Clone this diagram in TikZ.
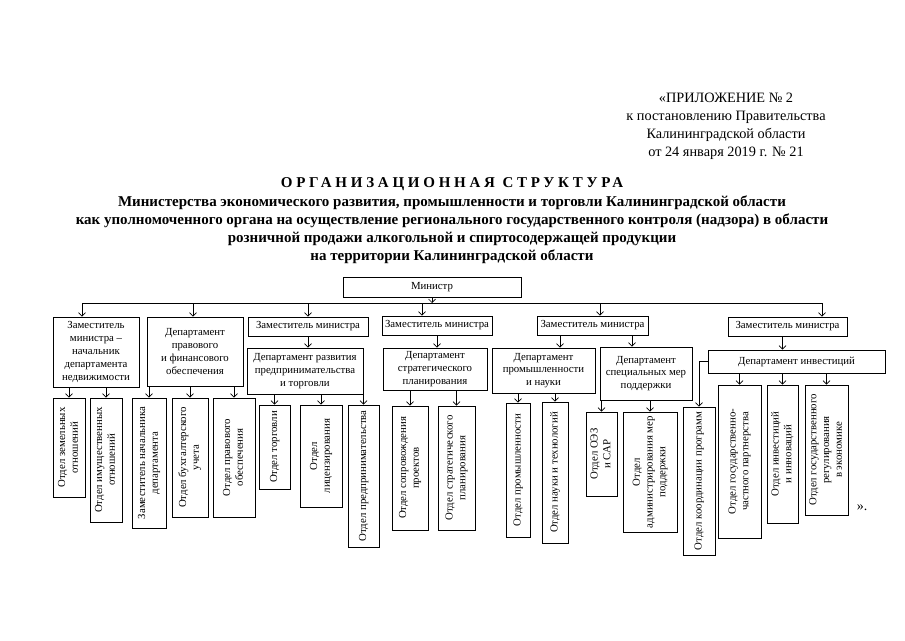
\documentclass[tikz,border=0pt]{standalone}
\usepackage{fontspec}
\usepackage{graphicx}
\setmainfont{Liberation Serif}
\usetikzlibrary{arrows.meta}

% Styles
\tikzset{
  box/.style={draw, line width=0.8pt, align=center, inner sep=1pt,
    font=\fontsize{10.8}{12.8}\selectfont},
  arr/.style={-{Straight Barb[length=3.5pt,width=7pt]}, line width=0.7pt},
  bus/.style={line width=0.8pt}
}
\newcommand{\vtext}[1]{\rotatebox{90}{\begin{tabular}{@{}c@{}}#1\end{tabular}}}

\begin{document}
\begin{tikzpicture}[x=1pt, y=-1pt]
\useasboundingbox (0,0) rectangle (905,640);

% En-tete
\node[align=center, font=\fontsize{14.3}{18}\selectfont] (annex) at (726,126)
  {«ПРИЛОЖЕНИЕ № 2\\к постановлению Правительства\\Калининградской области\\от 24 января 2019 г. № 21};
\node[align=center, font=\bfseries\fontsize{15}{18.2}\selectfont] (title) at (452,221)
  {{\addfontfeature{LetterSpace=25}ОРГАНИЗАЦИОННАЯ СТРУКТУРА}\\
   Министерства экономического развития, промышленности и торговли Калининградской области\\
   как уполномоченного органа на осуществление регионального государственного контроля (надзора) в области\\
   розничной продажи алкогольной и спиртосодержащей продукции\\
   на территории Калининградской области};

% Niveau 1
\node[box, minimum width=178pt, minimum height=20pt] (min) at (432,287) {Министр};

% Niveau 2
\node[box, minimum width=86pt, minimum height=70pt] (zam1) at (96,352)
  {Заместитель\\министра –\\начальник\\департамента\\недвижимости};
\node[box, minimum width=96pt, minimum height=69pt] (dpf) at (195,351.5)
  {Департамент\\правового\\и финансового\\обеспечения};
\node[box, minimum width=120pt, minimum height=19pt] (zamA) at (308,326.5) {Заместитель министра};
\node[box, minimum width=110pt, minimum height=19pt] (zamB) at (437,325.5) {Заместитель министра};
\node[box, minimum width=111pt, minimum height=19pt] (zamC) at (592.5,325.5) {Заместитель министра};
\node[box, minimum width=119pt, minimum height=19pt] (zamD) at (787.5,326.5) {Заместитель министра};

% Departements
\node[box, minimum width=116pt, minimum height=46pt] (drp) at (305,371)
  {Департамент развития\\предпринимательства\\и торговли};
\node[box, minimum width=104pt, minimum height=42pt] (dsp) at (435,369)
  {Департамент\\стратегического\\планирования};
\node[box, minimum width=103pt, minimum height=45pt] (dpn) at (543.5,370.5)
  {Департамент\\промышленности\\и науки};
\node[box, minimum width=92pt, minimum height=53pt] (dsm) at (646,373.5)
  {Департамент\\специальных мер\\поддержки};
\node[box, minimum width=177pt, minimum height=23pt] (dinv) at (796.5,361.5)
  {Департамент инвестиций};

% Отделы
\node[box, minimum width=32pt, minimum height=99pt] (ozem) at (69,447.5) {\vtext{Отдел земельных\\отношений}};
\node[box, minimum width=32pt, minimum height=124pt] (oim) at (106,460) {\vtext{Отдел имущественных\\отношений}};
\node[box, minimum width=34pt, minimum height=130pt] (znd) at (149,463) {\vtext{Заместитель начальника\\департамента}};
\node[box, minimum width=36pt, minimum height=119pt] (obu) at (190,457.5) {\vtext{Отдел бухгалтерского\\учета}};
\node[box, minimum width=42pt, minimum height=119pt] (opr) at (234,457.5) {\vtext{Отдел правового\\обеспечения}};
\node[box, minimum width=31pt, minimum height=84pt] (otorg) at (274.5,447) {\vtext{Отдел торговли}};
\node[box, minimum width=42pt, minimum height=102pt] (olic) at (321,456) {\vtext{Отдел\\лицензирования}};
\node[box, minimum width=31pt, minimum height=142pt] (opred) at (363.5,476) {\vtext{Отдел предпринимательства}};
\node[box, minimum width=36pt, minimum height=124pt] (osopr) at (410,468) {\vtext{Отдел сопровождения\\проектов}};
\node[box, minimum width=37pt, minimum height=124pt] (ostrat) at (456.5,468) {\vtext{Отдел стратегического\\планирования}};
\node[box, minimum width=24pt, minimum height=134pt] (oprom) at (518,470) {\vtext{Отдел промышленности}};
\node[box, minimum width=26pt, minimum height=141pt] (onauk) at (555,472.5) {\vtext{Отдел науки и технологий}};
\node[box, minimum width=31pt, minimum height=84pt] (ooez) at (601.5,454) {\vtext{Отдел ОЭЗ\\и САР}};
\node[box, minimum width=54pt, minimum height=120pt] (oadm) at (650,472) {\vtext{Отдел\\администрирования мер\\поддержки}};
\node[box, minimum width=32pt, minimum height=148pt] (okoord) at (699,481) {\vtext{Отдел координации программ}};
\node[box, minimum width=43pt, minimum height=153pt] (ogchp) at (739.5,461.5) {\vtext{Отдел государственно-\\частного партнерства}};
\node[box, minimum width=31pt, minimum height=138pt] (oinv) at (782.5,454) {\vtext{Отдел инвестиций\\и инноваций}};
\node[box, minimum width=43pt, minimum height=130pt] (ogreg) at (826.5,450) {\vtext{Отдел государственного\\регулирования\\в экономике}};
\node[font=\fontsize{14}{16}\selectfont] (fin) at (862,508) {».};

% Шина
\coordinate (b1) at (82,303);
\coordinate (b2) at (193,303);
\coordinate (b3) at (308,303);
\coordinate (b4) at (422,303);
\coordinate (b5) at (600,303);
\coordinate (b6) at (822,303);
\draw[bus] (b1) -- (b6);
\draw[arr] (min.south) -- (min.south |- b1);
\foreach \b/\n in {b1/zam1, b2/dpf, b3/zamA, b4/zamB, b5/zamC, b6/zamD}
  \draw[arr] (\b) -- (\b |- \n.north);

% Заместители -> департаменты
\draw[arr] (zamA.south) -- (zamA.south |- drp.north);
\draw[arr] (zamB.south) -- (zamB.south |- dsp.north);
\draw[arr] ([xshift=-32.5pt]zamC.south) -- ([xshift=-32.5pt]zamC.south |- dpn.north);
\draw[arr] ([xshift=39.5pt]zamC.south) -- ([xshift=39.5pt]zamC.south |- dsm.north);
\draw[arr] ([xshift=-5pt]zamD.south) -- ([xshift=-5pt]zamD.south |- dinv.north);

% Департаменты -> отделы
\foreach \p/\c in {zam1/ozem, zam1/oim, dpf/znd, dpf/obu, dpf/opr,
                   drp/otorg, drp/olic, drp/opred, dsp/osopr, dsp/ostrat,
                   dpn/oprom, dpn/onauk, dsm/ooez, dsm/oadm,
                   dinv/ogchp, dinv/oinv, dinv/ogreg}
  \draw[arr] (\c.north |- \p.south) -- (\c.north);
\draw[arr] (dinv.west) -| (okoord.north);

\end{tikzpicture}
\end{document}
